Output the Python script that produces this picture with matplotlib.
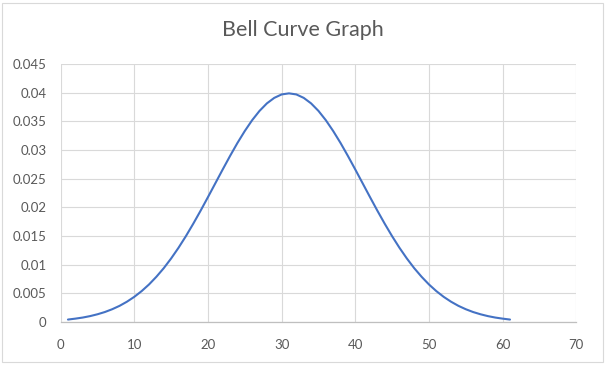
import matplotlib
matplotlib.use("Agg")
import matplotlib.pyplot as plt
from matplotlib.patches import Rectangle

# values, x = 1 .. 61
x_vals = list(range(1, 62))
left_half = [0.00044, 0.00060, 0.00079, 0.00104, 0.00136, 0.00175, 0.00224, 0.00283,
             0.00355, 0.00440, 0.00540, 0.00656, 0.00790, 0.00940, 0.01109, 0.01295,
             0.01497, 0.01714, 0.01942, 0.02179, 0.02420, 0.02661, 0.02897, 0.03123,
             0.03332, 0.03521, 0.03683, 0.03814, 0.03910, 0.03970]
peak = [0.03989]
y_vals = left_half + peak + left_half[::-1]

x_ticks = [0, 10, 20, 30, 40, 50, 60, 70]
y_ticks = [0, 0.005, 0.01, 0.015, 0.02, 0.025, 0.03, 0.035, 0.04, 0.045]
y_labels = ["0", "0.005", "0.01", "0.015", "0.02", "0.025", "0.03", "0.035", "0.04", "0.045"]
title = "Bell Curve Graph"

plt.rcParams['font.family'] = ['Lato', 'DejaVu Sans']
text_col = '#595959'
grid_col = '#D9D9D9'

fig = plt.figure(figsize=(6.06, 3.66), dpi=100, facecolor='white')
ax = fig.add_axes([0.100, 0.120, 0.851, 0.705])

ax.plot(x_vals, y_vals, color='#4472C4', linewidth=1.5, solid_capstyle='round')

ax.set_xlim(0, 70)
ax.set_ylim(0, 0.045)
ax.set_xticks(x_ticks)
ax.set_yticks(y_ticks)
ax.set_yticklabels(y_labels)
ax.grid(True, color=grid_col, linewidth=0.8)
ax.set_axisbelow(True)
for s in ['top', 'right', 'left']:
    ax.spines[s].set_visible(False)
ax.spines['bottom'].set_color('#BFBFBF')
ax.spines['bottom'].set_linewidth(0.9)
ax.tick_params(axis='both', length=0, colors=text_col, labelsize=9.5)
ax.tick_params(axis='y', pad=10)
ax.tick_params(axis='x', pad=12)

fig.text(0.5, 0.918, title, ha='center', va='center', fontsize=15.5, color=text_col)

# chart border
fig.patches.append(Rectangle((2.5 / 606, 4.5 / 366), 600 / 606, 359 / 366,
                             transform=fig.transFigure, fill=False,
                             edgecolor=grid_col, linewidth=0.8))

fig.savefig('out.png', dpi=100, facecolor='white')
